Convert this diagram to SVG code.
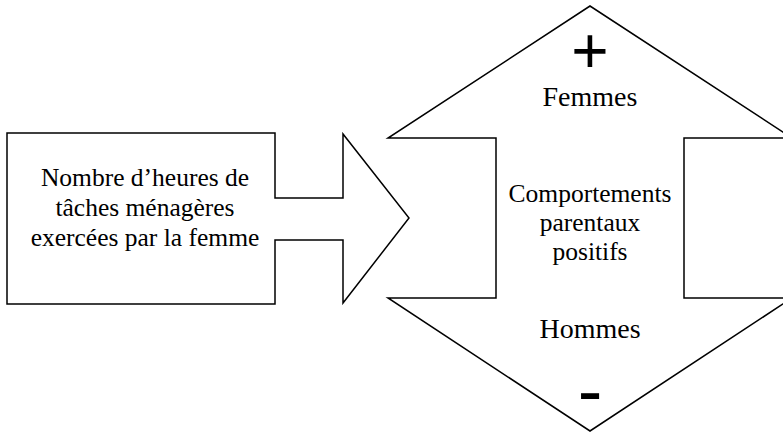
<svg xmlns="http://www.w3.org/2000/svg" width="783" height="433" viewBox="0 0 783 433">
  <style>
    .shape { fill: #ffffff; stroke: #000000; stroke-width: 1.5; stroke-linejoin: miter; }
    .lbl { font-family: "Liberation Serif", "Times New Roman", serif; fill: #000000; text-anchor: middle; }
    .sym { font-family: "Liberation Sans", Arial, sans-serif; fill: #000000; text-anchor: middle; }
  </style>
  <rect x="0" y="0" width="783" height="433" fill="#ffffff"/>
  <g id="connectors"></g>
  <g id="node-heures">
    <polygon class="shape" points="7,133 275,133 275,198 343,198 343,134 409,218 343,303 343,240 275,240 275,304 7,304"/>
    <text class="lbl" font-size="25.5" x="145" y="186">Nombre d’heures de</text>
    <text class="lbl" font-size="25.5" x="145" y="216">tâches ménagères</text>
    <text class="lbl" font-size="25.5" x="145" y="246">exercées par la femme</text>
  </g>
  <g id="node-comportements">
    <polygon class="shape" points="590,6 388,138 496,138 496,298 388,298 590,431 792,298 684,298 684,138 792,138"/>
    <text class="sym" font-size="64" x="590" y="73">+</text>
    <text class="lbl" font-size="28" x="590" y="106">Femmes</text>
    <text class="lbl" font-size="25.5" x="590" y="202">Comportements</text>
    <text class="lbl" font-size="25.5" x="590" y="231">parentaux</text>
    <text class="lbl" font-size="25.5" x="590" y="260">positifs</text>
    <text class="lbl" font-size="28" x="590" y="338">Hommes</text>
    <text class="sym" font-size="74" x="590" y="416">-</text>
  </g>
</svg>
